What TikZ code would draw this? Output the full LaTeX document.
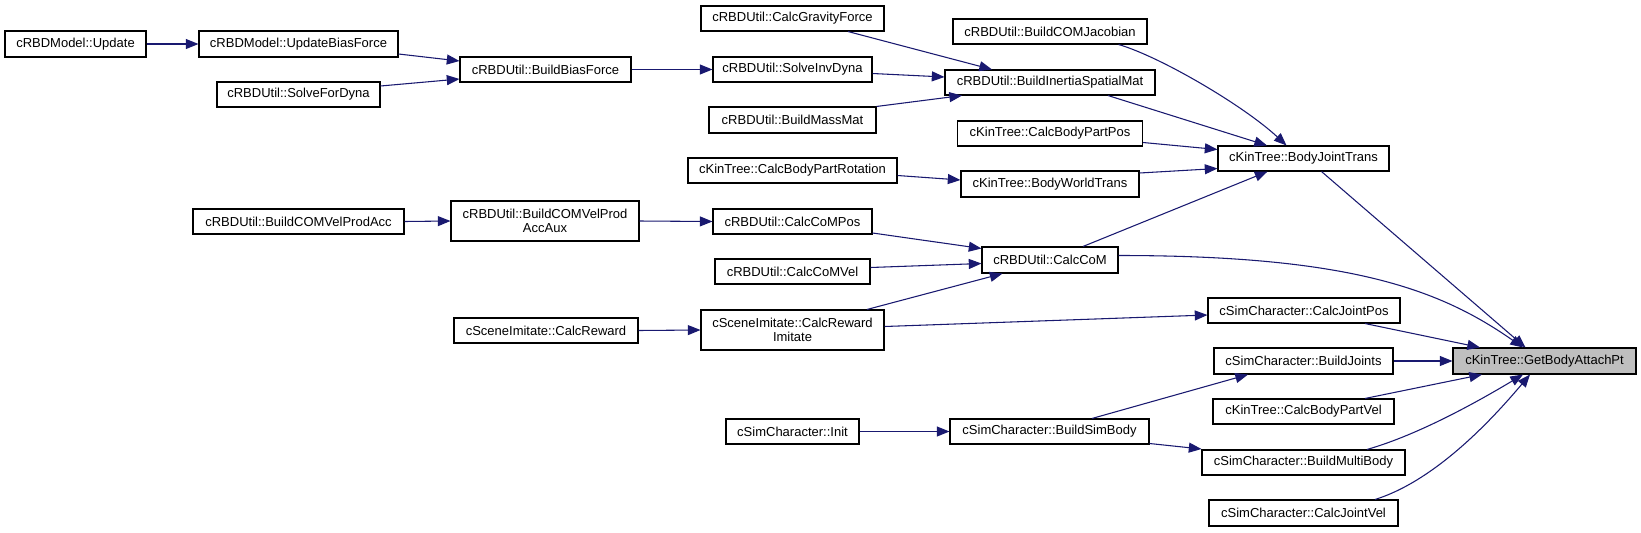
\documentclass[tikz,border=0pt]{standalone}
\usepackage{fontspec}
\setmainfont{Liberation Sans}
\usetikzlibrary{arrows.meta,calc}
\definecolor{edgeblue}{HTML}{191970}
\definecolor{hlgray}{HTML}{BFBFBF}
\newcommand\mybox[7][white]{\node[fnbox,fill=#1,minimum width=#5*0.75pt,minimum height=#6*0.75pt] (#2) at (#3,#4) {#7};}
\begin{document}
\begin{tikzpicture}[x=0.75pt,y=-0.75pt,
  fnbox/.style={draw=black,line width=0.8pt,inner sep=0pt,align=center,
    font=\fontsize{9.75pt}{10.7pt}\selectfont},
  e/.style={draw=edgeblue,line width=0.8pt,-{Triangle[length=9.5pt,width=7.5pt]}}]
\useasboundingbox[fill=white] (0,0) rectangle (1641,532);
% column 1
\mybox{upd}{75.5}{44}{141}{26}{cRBDModel::Update}
% column 2
\mybox{ubf}{298.5}{44}{199}{26}{cRBDModel::UpdateBiasForce}
\mybox{sfd}{298.5}{94.5}{163}{25}{cRBDUtil::SolveForDyna}
\mybox{bcvpa}{298.5}{221.5}{211}{25}{cRBDUtil::BuildCOMVelProdAcc}
% column 3
\mybox{bbf}{545.5}{69.5}{171}{25}{cRBDUtil::BuildBiasForce}
\mybox{bcvpaa}{545}{221}{188}{40}{cRBDUtil::BuildCOMVelProd\\AccAux}
\mybox{cr}{546}{330.5}{184}{25}{cSceneImitate::CalcReward}
% column 4
\mybox{cgf}{792.5}{18.5}{183}{25}{cRBDUtil::CalcGravityForce}
\mybox{sid}{792.5}{69.5}{159}{25}{cRBDUtil::SolveInvDyna}
\mybox{bmm}{792.5}{120}{167}{26}{cRBDUtil::BuildMassMat}
\mybox{cbpr}{792.5}{170.5}{209}{25}{cKinTree::CalcBodyPartRotation}
\mybox{ccmp}{792.5}{221.5}{159}{25}{cRBDUtil::CalcCoMPos}
\mybox{ccmv}{792.5}{271.5}{155}{25}{cRBDUtil::CalcCoMVel}
\mybox{cri}{792.5}{330}{183}{40}{cSceneImitate::CalcReward\\Imitate}
\mybox{init}{792.5}{431.5}{133}{25}{cSimCharacter::Init}
% column 5
\mybox{bcj}{1050}{31.5}{194}{25}{cRBDUtil::BuildCOMJacobian}
\mybox{bism}{1050}{82.5}{210}{25}{cRBDUtil::BuildInertiaSpatialMat}
\mybox{cbpp}{1050}{133.5}{185}{25}{cKinTree::CalcBodyPartPos}
\mybox{bwt}{1050}{184}{178}{26}{cKinTree::BodyWorldTrans}
\mybox{ccm}{1050}{260}{136}{26}{cRBDUtil::CalcCoM}
\mybox{bsb}{1049.5}{431.5}{199}{25}{cSimCharacter::BuildSimBody}
% column 6
\mybox{bjt}{1303.5}{158.5}{171}{25}{cKinTree::BodyJointTrans}
\mybox{cjp}{1304}{310.5}{192}{25}{cSimCharacter::CalcJointPos}
\mybox{bj}{1303.5}{361}{179}{26}{cSimCharacter::BuildJoints}
\mybox{cbpv}{1303.5}{411.5}{181}{25}{cKinTree::CalcBodyPartVel}
\mybox{bmb}{1303.5}{462.5}{203}{25}{cSimCharacter::BuildMultiBody}
\mybox{cjv}{1303.5}{513}{189}{26}{cSimCharacter::CalcJointVel}
% target
\mybox[hlgray]{gbap}{1544.5}{361}{183}{26}{cKinTree::GetBodyAttachPt}
% edges
\draw[e] (upd.east) -- (ubf.west);
\draw[e] ($(ubf.east)+(0,10)$) -- ($(bbf.west)+(0,-8.5)$);
\draw[e] ($(sfd.east)+(0,-8.5)$) -- ($(bbf.west)+(0,9.5)$);
\draw[e] (bbf.east) -- (sid.west);
\draw[e] ($(cgf.south)+(55.5,0)$) -- ($(bism.north)+(-58,0)$);
\draw[e] ($(sid.east)+(0,4)$) -- ($(bism.west)+(0,-5.5)$);
\draw[e] (bmm.north east) -- ($(bism.south)+(-88,0)$);
\draw[e] ($(bcj.south)+(68.6,0)$) .. controls ($(bcj.south)+(110,12)$) and ($(bjt.north)+(-60,-40)$) .. ($(bjt.north)+(-17,0)$);
\draw[e] ($(bism.south)+(58,0)$) -- ($(bjt.north)+(-36.5,0)$);
\draw[e] ($(cbpp.east)+(0,9)$) -- ($(bjt.west)+(0,-9)$);
\draw[e] ($(bwt.east)+(0,-11)$) -- ($(bjt.west)+(0,10)$);
\draw[e] ($(cbpr.east)+(0,5)$) -- ($(bwt.west)+(0,-4)$);
\draw[e] ($(ccm.north)+(33,0)$) -- ($(bjt.south)+(-36,0)$);
\draw[e] (bcvpa.east) -- (bcvpaa.west);
\draw[e] (bcvpaa.east) -- (ccmp.west);
\draw[e] ($(ccmp.east)+(0,11.5)$) -- ($(ccm.west)+(0,-11.5)$);
\draw[e] ($(ccmv.east)+(0,-4)$) -- ($(ccm.west)+(0,3.5)$);
\draw[e] ($(cri.north)+(74.5,0)$) -- ($(ccm.south)+(-47.5,0)$);
\draw[e] ($(ccm.east)+(0,-4.5)$) .. controls ($(ccm.east)+(232,-4.5)$) and ($(gbap.north)+(-104.5,-58)$) .. ($(gbap.north)+(-21.5,0)$);
\draw[e] ($(bjt.south)+(18,0)$) -- ($(gbap.north)+(-19,0)$);
\draw[e] (cr.east) -- (cri.west);
\draw[e] ($(cri.east)+(0,-3.5)$) -- ($(cjp.west)+(0,4.5)$);
\draw[e] ($(cjp.south)+(61,0)$) -- ($(gbap.north)+(-64.5,0)$);
\draw[e] (bj.east) -- (gbap.west);
\draw[e] ($(bsb.north)+(42.5,0)$) -- ($(bj.south)+(-55.5,0)$);
\draw[e] ($(cbpv.north)+(61.5,0)$) -- ($(gbap.south)+(-62.5,0)$);
\draw[e] ($(bmb.north)+(63.5,0)$) .. controls ($(bmb.north)+(116,-15)$) and ($(gbap.south)+(-65,26)$) .. ($(gbap.south)+(-21.5,0)$);
\draw[e] ($(cjv.north)+(71.5,0)$) .. controls ($(cjv.north)+(136,-20)$) and ($(gbap.south)+(-45,36)$) .. ($(gbap.south)+(-14.5,0)$);
\draw[e] (init.east) -- (bsb.west);
\draw[e] ($(bsb.east)+(0,12)$) -- ($(bmb.west)+(0,-13.5)$);
\end{tikzpicture}
\end{document}
